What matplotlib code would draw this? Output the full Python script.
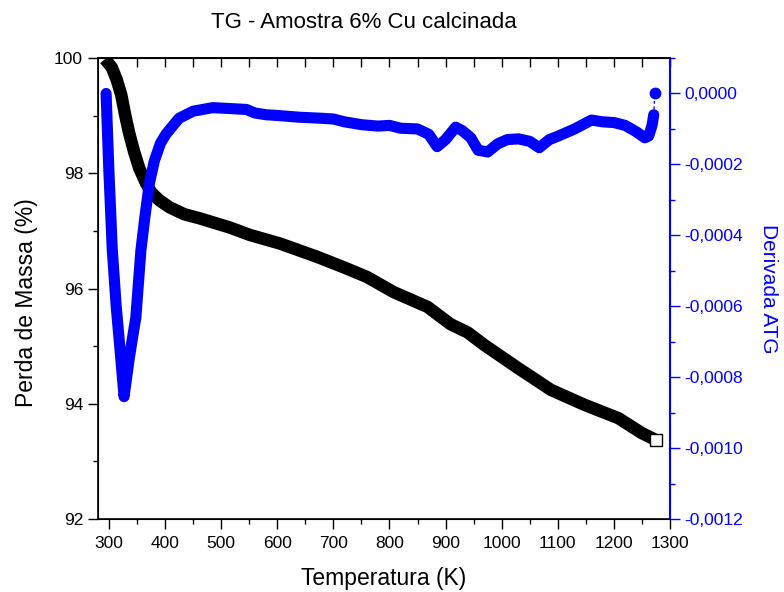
import numpy as np
import matplotlib
matplotlib.use("Agg")
import matplotlib.pyplot as plt
from matplotlib.ticker import MultipleLocator, FuncFormatter

plt.rcParams['font.family'] = ['Liberation Sans', 'DejaVu Sans']

# TG curve (mass %, left axis)
temp_tg = [293, 305, 314, 322, 329, 336, 345, 354, 365, 375, 390, 408, 434, 461,
           515, 551, 605, 671, 718, 760, 807, 868, 909, 939, 969, 1029, 1088,
           1148, 1208, 1250, 1275]
massa = [99.98, 99.84, 99.62, 99.36, 99.01, 98.70, 98.37, 98.09, 97.85, 97.67,
         97.53, 97.41, 97.29, 97.22, 97.06, 96.93, 96.78, 96.55, 96.37, 96.20,
         95.94, 95.68, 95.38, 95.24, 95.02, 94.62, 94.24, 93.98, 93.75, 93.49,
         93.37]

# DTG curve (right axis)
temp_dtg = [295, 300, 306, 313, 320, 324, 327, 330, 336, 342, 348, 357, 364,
            372, 381, 392, 402, 425, 450, 485, 510, 545, 560, 580, 600, 640,
            680, 700, 720, 750, 780, 800, 820, 850, 870, 885, 900, 918, 930,
            945, 958, 975, 993, 1010, 1030, 1050, 1067, 1085, 1101, 1130, 1160,
            1180, 1200, 1220, 1240, 1255, 1262, 1268, 1271]
dtg = [0.0, -0.00022, -0.00044, -0.0006, -0.000725, -0.0008, -0.000855,
       -0.00082, -0.00075, -0.00069, -0.000632, -0.000443, -0.00035,
       -0.000255, -0.00019, -0.00014, -0.000114, -0.00007, -0.00005,
       -0.00004, -0.000042, -0.000045, -0.000055, -0.00006, -0.000062,
       -0.000067, -0.00007, -0.000072, -0.00008, -0.000088, -0.000092,
       -0.00009, -0.000098, -0.0001, -0.000115, -0.00015, -0.00013,
       -0.000095, -0.000105, -0.000125, -0.00016, -0.000165, -0.000142,
       -0.00013, -0.000128, -0.000135, -0.000153, -0.00013, -0.00012,
       -0.0001, -0.000075, -0.00008, -0.000082, -0.00009, -0.000108,
       -0.000125, -0.00012, -0.00009, -0.00006]
ultimo_T = 1273
ultimo_dtg = 0.0

azul = '#0000ff'

fig, ax = plt.subplots(figsize=(7.84, 5.92), dpi=100)
fig.subplots_adjust(left=0.1246, right=0.8546, top=0.902, bottom=0.1233)

ax.plot(temp_tg, massa, color='black', lw=9, solid_capstyle='butt',
        solid_joinstyle='round', zorder=2)
ax.plot(temp_tg[-1], massa[-1], 's', ms=8, mfc='white', mec='black', mew=1, zorder=3)
ax.set_xlim(280, 1300)
ax.set_ylim(92, 100)
ax.xaxis.set_major_locator(MultipleLocator(100))
ax.xaxis.set_minor_locator(MultipleLocator(50))
ax.yaxis.set_major_locator(MultipleLocator(2))
ax.yaxis.set_minor_locator(MultipleLocator(1))
ax.tick_params(axis='both', which='major', direction='out', length=7, width=1, labelsize=12.5)
ax.tick_params(axis='both', which='minor', direction='out', length=3.5, width=1)
ax.tick_params(axis='x', pad=5)
for s in ['left', 'bottom', 'top']:
    ax.spines[s].set_linewidth(1.2)

# top ticks inside, no labels
top = ax.secondary_xaxis('top')
top.xaxis.set_major_locator(MultipleLocator(50))
top.tick_params(direction='in', length=6.5, width=1, labeltop=False)
top.spines['top'].set_linewidth(1.2)

ax.set_xlabel('Temperatura (K)', fontsize=16.5, labelpad=12)
ax.set_ylabel('Perda de Massa (%)', fontsize=16.5)
ax.yaxis.set_label_coords(-0.105, 0.4685)
fig.text(364 / 784, 1 - 22 / 592, 'TG - Amostra 6% Cu calcinada', fontsize=16,
         ha='center', va='center')

ax2 = ax.twinx()
ax2.plot(temp_dtg, dtg, color=azul, lw=8, solid_capstyle='round',
         solid_joinstyle='round', zorder=2)
ax2.plot([temp_dtg[-1], ultimo_T], [dtg[-1], ultimo_dtg], color=azul, lw=1,
         ls=(0, (2, 2)), zorder=1)
ax2.plot(ultimo_T, ultimo_dtg, 'o', ms=7.5, color=azul, zorder=3)
ax2.set_ylim(-0.0012, 0.0001)
ax2.yaxis.set_major_locator(MultipleLocator(0.0002))
ax2.yaxis.set_minor_locator(MultipleLocator(0.0001))


def virgula(v, pos):
    if abs(v) < 1e-9:
        return '0,0000'
    return ('%.4f' % v).replace('.', ',')


ax2.yaxis.set_major_formatter(FuncFormatter(virgula))
ax2.tick_params(axis='y', which='major', direction='out', length=7, width=1,
                colors=azul, labelsize=12.5)
ax2.tick_params(axis='y', which='minor', direction='out', length=3.5, width=1, colors=azul)
ax2.spines['right'].set_color(azul)
ax2.spines['right'].set_linewidth(1.5)
ax2.set_ylabel('Derivada ATG', color=azul, fontsize=15, rotation=270, labelpad=25)

fig.savefig('out.png', dpi=100)
